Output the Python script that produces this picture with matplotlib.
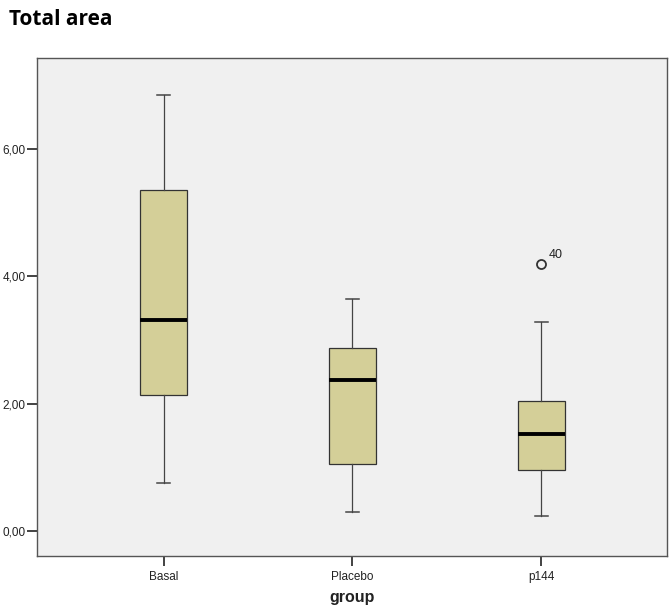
import matplotlib
matplotlib.use("Agg")
import matplotlib.pyplot as plt

groups = ["Basal", "Placebo", "p144"]
whislo = [0.75, 0.30, 0.24]
q1 = [2.13, 1.05, 0.96]
med = [3.31, 2.37, 1.52]
q3 = [5.35, 2.87, 2.04]
whishi = [6.84, 3.64, 3.28]
fliers = [[], [], [4.19]]
flier_labels = [[], [], ["40"]]

yticks = [0.0, 2.0, 4.0, 6.0]

fig = plt.figure(figsize=(6.69, 6.07), dpi=100)
ax = fig.add_axes([0.0553, 0.084, 0.9417, 0.8205])
ax.set_facecolor("#f0f0f0")

stats = []
for i, g in enumerate(groups):
    stats.append({"label": g, "whislo": whislo[i], "q1": q1[i], "med": med[i],
                  "q3": q3[i], "whishi": whishi[i], "fliers": fliers[i]})

ax.bxp(stats, positions=[1, 2, 3], widths=0.25, patch_artist=True,
       boxprops=dict(facecolor="#d4cf98", edgecolor="#333333", linewidth=0.9),
       medianprops=dict(color="black", linewidth=2.8),
       whiskerprops=dict(color="#444444", linewidth=0.9),
       capprops=dict(color="#444444", linewidth=1.1),
       capwidths=0.07,
       flierprops=dict(marker="o", markerfacecolor="none", markeredgecolor="#333333",
                       markersize=6.5, markeredgewidth=1.3))

for i in range(len(groups)):
    for v, lab in zip(fliers[i], flier_labels[i]):
        ax.annotate(lab, (i + 1, v), xytext=(5, 4), textcoords="offset points",
                    fontsize=9, color="#222222", family="Liberation Sans")

ax.set_xlim(0.330, 3.665)
ax.set_ylim(-0.39, 7.42)
ax.set_yticks(yticks)
ax.set_yticklabels([f"{t:.2f}".replace(".", ",") for t in yticks], fontsize=8.5,
                   color="#222222", family="Liberation Sans")
ax.set_xticks([1, 2, 3])
ax.set_xticklabels(groups, fontsize=8.5, color="#222222", family="Liberation Sans")
ax.tick_params(axis="both", length=7, width=1.2, color="#222222", direction="out")
ax.tick_params(axis="x", pad=4)
ax.tick_params(axis="y", pad=1)
for s in ax.spines.values():
    s.set_color("#555555")
    s.set_linewidth(1.0)

ax.set_xlabel("group", fontsize=11.5, fontweight="bold", color="#222222", labelpad=5,
              family="Liberation Sans")

fig.text(0.014, 0.985, "Total area", fontsize=15, fontweight="bold", va="top", ha="left",
         family="Open Sans")

fig.savefig("out.png", dpi=100)
